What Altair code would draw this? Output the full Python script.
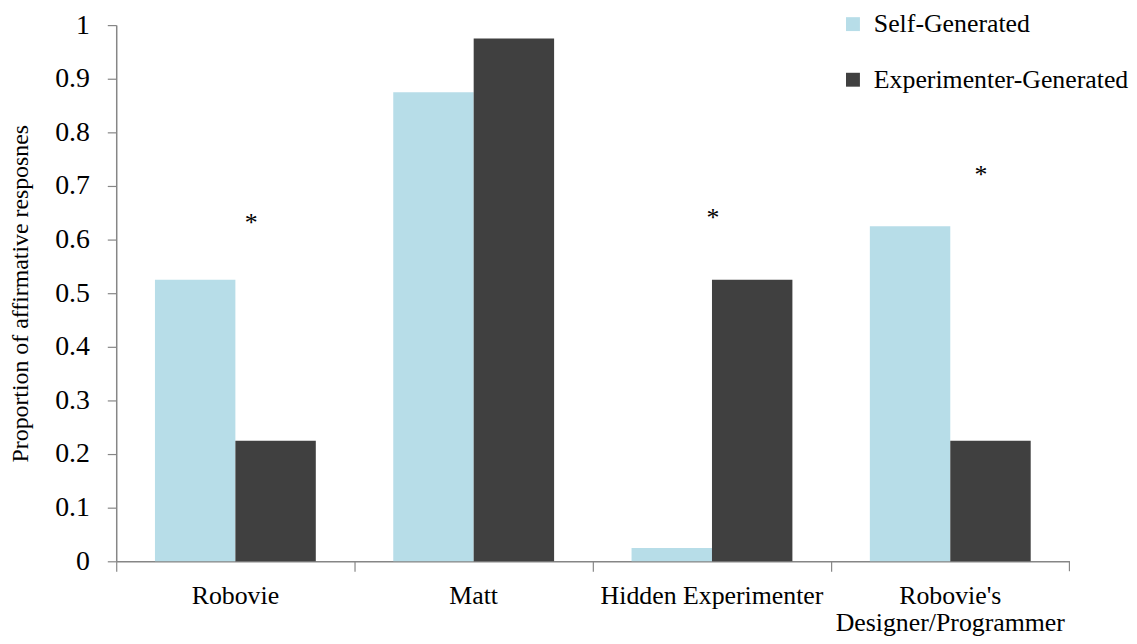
import altair as alt
import pandas as pd

categories = ["Robovie", "Matt", "Hidden Experimenter", "Robovie's\nDesigner/Programmer"]
series = ["Self-Generated", "Experimenter-Generated"]
self_generated = [0.525, 0.875, 0.025, 0.625]
experimenter_generated = [0.225, 0.975, 0.525, 0.225]
star_categories = ["Robovie", "Hidden Experimenter", "Robovie's\nDesigner/Programmer"]
star_values = [0.63, 0.64, 0.72]
star_dx = [16, 1, 31]

rows = []
for c, a, b in zip(categories, self_generated, experimenter_generated):
    rows.append({"category": c, "series": series[0], "value": a})
    rows.append({"category": c, "series": series[1], "value": b})
df = pd.DataFrame(rows)

FONT = "Liberation Serif, Times New Roman, Times, serif"
AXIS_COLOR = "#868686"
W, H = 960, 540

xscale = alt.Scale(domain=categories, paddingInner=0, paddingOuter=0)
yscale = alt.Scale(domain=[0, 1])

bars = alt.Chart(df).mark_bar().encode(
    x=alt.X("category:N", scale=xscale, sort=categories,
            axis=alt.Axis(title=None, labelAngle=0, bandPosition=0,
                          labelExpr="split(datum.label, '\\n')",
                          labelFont=FONT, labelFontSize=26, labelColor="#000000",
                          labelPadding=12, labelLineHeight=27, labelLimit=400,
                          domainColor=AXIS_COLOR, tickColor=AXIS_COLOR,
                          tickSize=10, domainWidth=1.5, tickWidth=1.2)),
    xOffset=alt.XOffset("series:N", sort=series,
                        scale=alt.Scale(domain=series, paddingInner=0, paddingOuter=0.4815)),
    y=alt.Y("value:Q", scale=yscale,
            axis=alt.Axis(title="Proportion of affirmative resposnes", values=[i / 10 for i in range(11)],
                          labelExpr="datum.value == 0 ? '0' : datum.value == 1 ? '1' : format(datum.value, '.1f')",
                          grid=False, labelFont=FONT, labelFontSize=28, labelColor="#000000",
                          labelPadding=18, tickSize=9,
                          titleFont=FONT, titleFontSize=24, titleFontWeight="normal", titleColor="#000000",
                          titlePadding=22,
                          domainColor=AXIS_COLOR, tickColor=AXIS_COLOR, domainWidth=1.5, tickWidth=1.2)),
    color=alt.Color("series:N", sort=series,
                    scale=alt.Scale(domain=series, range=["#b7dde8", "#404040"]),
                    legend=alt.Legend(title=None, orient="none", legendX=729, legendY=-14,
                                      labelFont=FONT, labelFontSize=26, labelColor="#000000",
                                      labelLimit=400,
                                      symbolType="square", symbolSize=196, symbolStrokeWidth=0,
                                      rowPadding=30, labelOffset=8)),
)

stars_df = pd.DataFrame({"category": star_categories, "value": star_values, "dx": star_dx})
star_layers = []
for c, v, d in zip(star_categories, star_values, star_dx):
    star_layers.append(
        alt.Chart(stars_df[stars_df["category"] == c]).mark_text(
            text="*", font=FONT, fontSize=26, dx=d, baseline="middle", color="#000000"
        ).encode(x=alt.X("category:N", scale=xscale, sort=categories, axis=None),
                 y=alt.Y("value:Q", scale=yscale, axis=None))
    )

end_tick = alt.Chart(pd.DataFrame({"a": [0]})).mark_rule(color=AXIS_COLOR, strokeWidth=1.2).encode(
    x=alt.value(W), y=alt.value(H), y2=alt.value(H + 10))

chart = alt.layer(bars, *star_layers, end_tick).resolve_axis(
    x="independent", y="independent"
).properties(
    width=W, height=H,
    background="#ffffff",
    autosize=alt.AutoSizeParams(type="none"),
    padding={"left": 109, "top": 15, "right": 60, "bottom": 73},
).configure_view(stroke=None).configure_axis(
    labelFont=FONT, titleFont=FONT, labelColor="#000000", titleColor="#000000",
    titleFontWeight="normal", grid=False
).configure_legend(labelFont=FONT).configure_text(font=FONT)

chart.save("out.html", embed_options={"renderer": "svg", "actions": False})
